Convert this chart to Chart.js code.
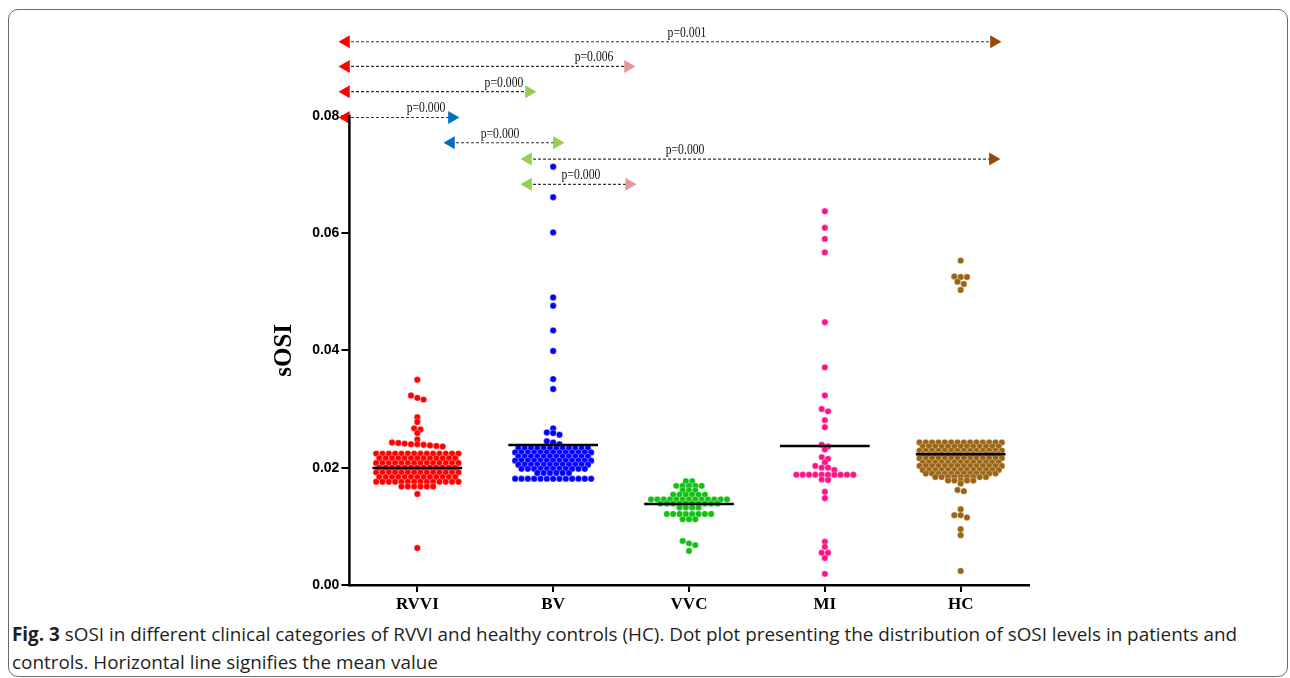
<!DOCTYPE html>
<html>
<head>
<meta charset="utf-8">
<script src="https://cdn.jsdelivr.net/npm/chart.js@4.4.1/dist/chart.umd.min.js"></script>
<style>
html,body{margin:0;padding:0;background:#fff;}
body{width:1290px;height:678px;position:relative;overflow:hidden;}
#frame{position:absolute;left:8px;top:9px;width:1280px;height:668px;border:1px solid #6a6a6a;border-radius:10px;box-sizing:border-box;}
#wrap{position:absolute;left:0;top:0;width:1290px;height:620px;}
#cap{position:absolute;left:12px;top:620px;font-family:'Open Sans',sans-serif;font-size:19px;line-height:28px;color:#231f20;white-space:nowrap;}
#cap span{display:inline-block;transform-origin:0 50%;}
#cap b{font-weight:700;}
</style>
</head>
<body>
<div id="frame"></div>
<div id="wrap"><canvas id="c" width="1290" height="620"></canvas></div>
<div id="cap"><span id="l1"><b>Fig. 3</b> sOSI in different clinical categories of RVVI and healthy controls (HC). Dot plot presenting the distribution of sOSI levels in patients and</span><br><span id="l2">controls. Horizontal line signifies the mean value</span></div>
<script>
// ---------- data ----------
const categories = ['RVVI', 'BV', 'VVC', 'MI', 'HC'];
const yTicks = [0, 0.02, 0.04, 0.06, 0.08];
const yTickLabels = ['0.00', '0.02', '0.04', '0.06', '0.08'];

const rvvi = [
  0.0350, 0.0323, 0.0319, 0.0316, 0.0286, 0.0278, 0.0267, 0.0265, 0.0259, 0.0248,
  0.0243, 0.0242, 0.0241, 0.0240, 0.0240, 0.0239, 0.0238, 0.0237, 0.0236,
  0.0224, 0.0224, 0.0224, 0.0224, 0.0224, 0.0224, 0.0224, 0.0224, 0.0224, 0.0224, 0.0224, 0.0224, 0.0224, 0.0224,
  0.0216, 0.0216, 0.0216, 0.0216, 0.0216, 0.0216, 0.0216, 0.0216, 0.0216, 0.0216, 0.0216, 0.0216, 0.0216,
  0.0208, 0.0208, 0.0208, 0.0208, 0.0208, 0.0208, 0.0208, 0.0208, 0.0208, 0.0208, 0.0208, 0.0208, 0.0208, 0.0208,
  0.0200, 0.0200, 0.0200, 0.0200, 0.0200, 0.0200, 0.0200, 0.0200, 0.0200, 0.0200, 0.0200, 0.0200, 0.0200,
  0.0192, 0.0192, 0.0192, 0.0192, 0.0192, 0.0192, 0.0192, 0.0192, 0.0192, 0.0192, 0.0192, 0.0192, 0.0192, 0.0192,
  0.0184, 0.0184, 0.0184, 0.0184, 0.0184, 0.0184, 0.0184, 0.0184, 0.0184, 0.0184, 0.0184, 0.0184, 0.0184,
  0.0176, 0.0176, 0.0176, 0.0176, 0.0176, 0.0176, 0.0176, 0.0176, 0.0176, 0.0176, 0.0176, 0.0176, 0.0176, 0.0176,
  0.0168, 0.0168, 0.0168, 0.0168, 0.0168, 0.0168,
  0.0155, 0.0063
];
const bv = [
  0.0713, 0.0661, 0.0601, 0.0490, 0.0476, 0.0434, 0.0399, 0.0351, 0.0334,
  0.0267, 0.0260, 0.0259, 0.0256, 0.0245, 0.0243, 0.0240,
  0.0233, 0.0233, 0.0233, 0.0233, 0.0233, 0.0233, 0.0233, 0.0233, 0.0233, 0.0233, 0.0233, 0.0233,
  0.0226, 0.0226, 0.0226, 0.0226, 0.0226, 0.0226, 0.0226, 0.0226, 0.0226, 0.0226, 0.0226, 0.0226, 0.0226,
  0.0219, 0.0219, 0.0219, 0.0219, 0.0219, 0.0219, 0.0219, 0.0219, 0.0219, 0.0219, 0.0219, 0.0219,
  0.0212, 0.0212, 0.0212, 0.0212, 0.0212, 0.0212, 0.0212, 0.0212, 0.0212, 0.0212, 0.0212, 0.0212, 0.0212,
  0.0205, 0.0205, 0.0205, 0.0205, 0.0205, 0.0205, 0.0205, 0.0205, 0.0205, 0.0205, 0.0205, 0.0205,
  0.0198, 0.0198, 0.0198, 0.0198, 0.0198, 0.0198, 0.0198, 0.0198, 0.0198, 0.0198, 0.0198,
  0.0191, 0.0191, 0.0191, 0.0191, 0.0191, 0.0191,
  0.0181, 0.0181, 0.0181, 0.0181, 0.0181, 0.0181, 0.0181, 0.0181, 0.0181, 0.0181, 0.0181, 0.0181, 0.0181
];
const vvc = [
  0.0177, 0.0177,
  0.0169, 0.0169, 0.0169, 0.0169, 0.0169,
  0.0161, 0.0161, 0.0161,
  0.0154, 0.0154, 0.0154, 0.0154, 0.0154, 0.0154,
  0.0146, 0.0146, 0.0146, 0.0146, 0.0146, 0.0146, 0.0146, 0.0146, 0.0146, 0.0146, 0.0146, 0.0146, 0.0146,
  0.0139, 0.0139, 0.0139, 0.0139, 0.0139, 0.0139, 0.0139, 0.0139, 0.0139, 0.0139,
  0.0132, 0.0132, 0.0132, 0.0132,
  0.0121, 0.0121, 0.0121, 0.0121, 0.0121, 0.0121, 0.0121, 0.0121,
  0.0112, 0.0112, 0.0112,
  0.0075, 0.0071, 0.0068, 0.0058
];
const mi = [
  0.0637, 0.0609, 0.0590, 0.0567, 0.0448, 0.0371, 0.0323, 0.0300, 0.0296, 0.0281, 0.0269,
  0.0239, 0.0236, 0.0231, 0.0218, 0.0215, 0.0209, 0.0203, 0.0200, 0.0200, 0.0196,
  0.0188, 0.0188, 0.0188, 0.0188, 0.0188, 0.0188, 0.0188, 0.0188, 0.0188, 0.0188,
  0.0180, 0.0179, 0.0159, 0.0148,
  0.0074, 0.0065, 0.0055, 0.0055, 0.0046, 0.0019
];
const hc = [
  0.0553, 0.0526, 0.0525, 0.0525, 0.0517, 0.0513, 0.0503,
  0.0243, 0.0243, 0.0243, 0.0243, 0.0243, 0.0243, 0.0243, 0.0243, 0.0243, 0.0243, 0.0243, 0.0243, 0.0243, 0.0243,
  0.0236, 0.0236, 0.0236, 0.0236, 0.0236, 0.0236, 0.0236, 0.0236, 0.0236, 0.0236, 0.0236, 0.0236, 0.0236,
  0.0229, 0.0229, 0.0229, 0.0229, 0.0229, 0.0229, 0.0229, 0.0229, 0.0229, 0.0229, 0.0229, 0.0229, 0.0229, 0.0229,
  0.0223, 0.0223, 0.0223, 0.0223, 0.0223, 0.0223, 0.0223, 0.0223, 0.0223, 0.0223, 0.0223, 0.0223, 0.0223,
  0.0216, 0.0216, 0.0216, 0.0216, 0.0216, 0.0216, 0.0216, 0.0216, 0.0216, 0.0216, 0.0216, 0.0216, 0.0216, 0.0216,
  0.0209, 0.0209, 0.0209, 0.0209, 0.0209, 0.0209, 0.0209, 0.0209, 0.0209, 0.0209, 0.0209, 0.0209, 0.0209,
  0.0203, 0.0203, 0.0203, 0.0203, 0.0203, 0.0203, 0.0203, 0.0203, 0.0203, 0.0203, 0.0203, 0.0203, 0.0203, 0.0203,
  0.0196, 0.0196, 0.0196, 0.0196, 0.0196, 0.0196, 0.0196, 0.0196, 0.0196, 0.0196, 0.0196, 0.0196, 0.0196,
  0.0190, 0.0190, 0.0190, 0.0190, 0.0190, 0.0190, 0.0190, 0.0190, 0.0190, 0.0190, 0.0190, 0.0190,
  0.0184, 0.0184, 0.0184, 0.0184, 0.0184, 0.0184, 0.0184, 0.0184, 0.0184,
  0.0178, 0.0178, 0.0178, 0.0178, 0.0178,
  0.0173, 0.0162, 0.0160, 0.0129, 0.0119, 0.0119, 0.0115, 0.0095, 0.0085, 0.0024
];
const groupValues = [rvvi, bv, vvc, mi, hc];
const meanValues = [0.01995, 0.02387, 0.01381, 0.02370, 0.02228];

// pairwise comparisons (category positions on the x scale, y level, p text)
const cmpY      = [0.0926, 0.0884, 0.0841, 0.0797, 0.0754, 0.0726, 0.0683];
const cmpFromX  = [0.475, 0.475, 0.475, 0.475, 1.248, 1.815, 1.815];
const cmpToX    = [5.245, 2.551, 1.822, 1.255, 2.028, 5.237, 2.559];
const cmpFromG  = [0, 0, 0, 0, 1, 2, 2];
const cmpToG    = [4, 3, 2, 1, 2, 4, 3];
const cmpLabel  = ['p=0.001', 'p=0.006', 'p=0.000', 'p=0.000', 'p=0.000', 'p=0.000', 'p=0.000'];
const cmpLabelX = [2.985, 2.301, 1.638, 1.064, 1.609, 2.971, 2.205];

// ---------- styles ----------
const dotColors   = ['#ff0000', '#0000ff', '#12c212', '#ff1486', '#9a6414'];
const arrowColors = ['#ff0000', '#0070c0', '#92d050', '#e09a9a', '#974806'];
const SLOT = 0.0466;      // horizontal spacing of dots (category units)
const ROW_TOL = 0.00045;  // values closer than this share a row
const MEAN_HALF = 0.33;

// Prism-like scatter dot layout: values that fall in one row are spread sideways
function swarm(values, center) {
  const sorted = values.slice().sort((a, b) => b - a);
  const rows = [];
  let prev = null;
  for (const v of sorted) {
    if (prev !== null && prev - v < ROW_TOL) rows[rows.length - 1].push(v);
    else rows.push([v]);
    prev = v;
  }
  const pts = [];
  rows.forEach(r => {
    const n = r.length;
    r.forEach((v, k) => pts.push({ x: center + (k - (n - 1) / 2) * SLOT, y: v }));
  });
  return pts;
}

const datasets = [];
meanValues.forEach((m, i) => {
  datasets.push({
    type: 'line', order: 0,
    data: [{ x: i + 1 - MEAN_HALF, y: m }, { x: i + 1 + MEAN_HALF, y: m }],
    borderColor: '#000', borderWidth: 2.4, pointRadius: 0, fill: false
  });
});
cmpY.forEach((yv, i) => {
  datasets.push({
    type: 'line', order: 1, clip: false,
    data: [{ x: cmpFromX[i], y: yv }, { x: cmpToX[i], y: yv }],
    borderColor: '#333', borderWidth: 1.1, borderDash: [3, 2], fill: false,
    pointStyle: 'triangle', pointRadius: 7.5, pointBorderWidth: 0,
    pointRotation: [-90, 90],
    pointBackgroundColor: [arrowColors[cmpFromG[i]], arrowColors[cmpToG[i]]],
    pointBorderColor: 'rgba(0,0,0,0)'
  });
});
groupValues.forEach((vals, i) => {
  datasets.push({
    type: 'scatter', order: 2,
    data: swarm(vals, i + 1),
    pointRadius: 3.2, pointBackgroundColor: dotColors[i],
    pointBorderColor: 'rgba(255,255,255,0.55)', pointBorderWidth: 0.6
  });
});

const decor = {
  id: 'decor',
  afterDraw(chart) {
    const { ctx, scales: { x, y } } = chart;
    ctx.save();
    // y axis line (only over the tick range)
    ctx.strokeStyle = '#000'; ctx.lineWidth = 2.5;
    ctx.beginPath();
    ctx.moveTo(x.left, y.getPixelForValue(yTicks[0]) + 1.2);
    ctx.lineTo(x.left, y.getPixelForValue(yTicks[yTicks.length - 1]) - 1);
    ctx.stroke();
    // y title
    ctx.fillStyle = '#000';
    ctx.font = 'bold 25px "Liberation Serif", "DejaVu Serif", serif';
    ctx.textAlign = 'center'; ctx.textBaseline = 'middle';
    ctx.translate(285, (y.getPixelForValue(yTicks[0]) + y.getPixelForValue(yTicks[yTicks.length - 1])) / 2);
    ctx.rotate(-Math.PI / 2);
    ctx.fillText('sOSI', 0, 0);
    ctx.restore();
    // p values
    ctx.save();
    ctx.fillStyle = '#111';
    ctx.font = '15px "Liberation Serif", serif';
    ctx.textAlign = 'center'; ctx.textBaseline = 'alphabetic';
    cmpLabel.forEach((t, i) => {
      ctx.save();
      ctx.translate(x.getPixelForValue(cmpLabelX[i]), y.getPixelForValue(cmpY[i]) - 5);
      ctx.scale(0.78, 1);
      ctx.fillText(t, 0, 0);
      ctx.restore();
    });
    ctx.restore();
  }
};

new Chart(document.getElementById('c'), {
  data: { datasets },
  plugins: [decor],
  options: {
    responsive: false, animation: false, devicePixelRatio: 1, events: [],
    layout: { padding: { left: 0, right: 261.4, top: 27.7, bottom: 0 } },
    plugins: { legend: { display: false }, tooltip: { enabled: false } },
    scales: {
      x: {
        type: 'linear', min: 0.5, max: 5.5,
        afterBuildTicks: s => { s.ticks = categories.map((c, i) => ({ value: i + 1 })); },
        afterFit: s => { s.height = 35; },
        border: { display: true, color: '#000', width: 2.5 },
        grid: { drawOnChartArea: false, drawTicks: true, tickLength: 7, color: '#000', lineWidth: 2 },
        ticks: {
          callback: (v, i) => categories[i], autoSkip: false, maxRotation: 0, padding: 2,
          color: '#000', font: { family: '"Liberation Serif", serif', weight: 'bold', size: 17 }
        }
      },
      y: {
        type: 'linear', min: 0, max: 0.095,
        afterBuildTicks: s => { s.ticks = yTicks.map(v => ({ value: v })); },
        afterFit: s => { s.width = 349.4; },
        border: { display: false },
        grid: { drawOnChartArea: false, drawTicks: true, tickLength: 8, color: '#000', lineWidth: 2 },
        ticks: {
          callback: (v, i) => yTickLabels[i], padding: 2, color: '#000',
          font: { family: '"Liberation Sans", Arial, sans-serif', weight: 'bold', size: 14 }
        }
      }
    }
  }
});

function fitCaption() {
  const l1 = document.getElementById('l1'), l2 = document.getElementById('l2');
  l1.style.transform = 'none'; l2.style.transform = 'none';
  const w = l1.getBoundingClientRect().width;
  const s = 1225 / w;
  l1.style.transform = 'scaleX(' + s + ')';
  l2.style.transform = 'scaleX(' + s + ')';
}
fitCaption();
if (document.fonts && document.fonts.ready) document.fonts.ready.then(fitCaption);
</script>
</body>
</html>
